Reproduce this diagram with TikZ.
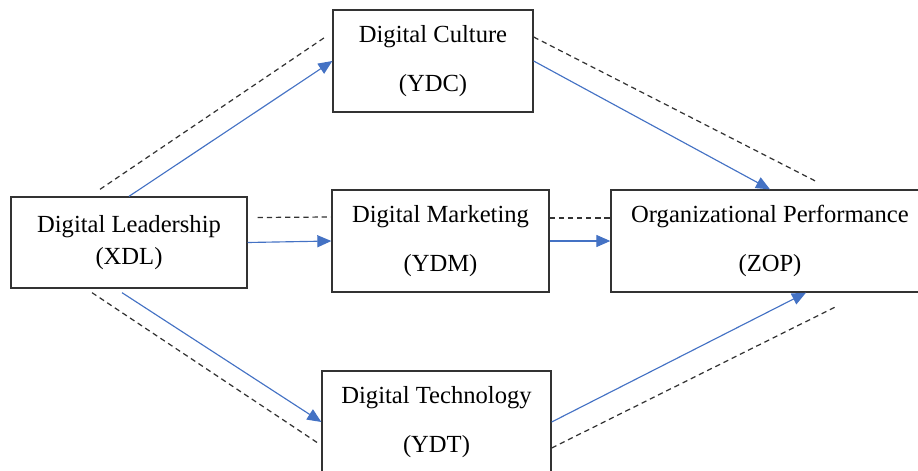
\documentclass[tikz,border=0pt]{standalone}
\usepackage{fontspec}
\setmainfont{Liberation Serif}
\usepackage{xcolor}
\usetikzlibrary{arrows.meta, positioning, calc}

\definecolor{pathblue}{HTML}{4472C4}
\definecolor{boxline}{HTML}{333333}
\definecolor{dashgray}{HTML}{333333}

\begin{document}
\begin{tikzpicture}[
    varbox/.style={rectangle,draw=boxline,line width=0.75pt,inner sep=0pt,minimum height=2.04cm,align=center,font=\fontsize{14}{28}\selectfont},
    path/.style={draw=pathblue,line width=0.65pt,-{Triangle[length=2.8mm,width=2.4mm]}},
    med/.style={draw=dashgray,line width=0.7pt,dash pattern=on 3pt off 2.2pt}
]
    \useasboundingbox (0,0) rectangle (18.36,9.4);
    \clip (0,0) rectangle (18.36,9.4);

    % Variabile X
    \node[varbox,minimum width=4.72cm,minimum height=1.82cm,font=\fontsize{14}{18}\selectfont] (xdl) at (2.58,4.55) {Digital Leadership\\(XDL)};

    % Mediatori
    \node[varbox,minimum width=4.0cm] (ydc) at (8.66,8.18) {Digital Culture\\(YDC)};
    \node[varbox,minimum width=4.34cm] (ydm) at (8.81,4.58) {Digital Marketing\\(YDM)};
    \node[varbox,minimum width=4.58cm] (ydt) at (8.73,0.96) {Digital Technology\\(YDT)};

    % Variabile Z
    \node[varbox,minimum width=6.36cm] (zop) at (15.4,4.58) {Organizational Performance\\(ZOP)};

    % Percorsi diretti
    \draw[path] (xdl.north) -- (ydc.west);
    \draw[path] (xdl.east) -- (ydm.west);
    \draw[path] ([xshift=-0.14cm,yshift=-0.08cm]xdl.south) -- (ydt.west);
    \draw[path] (ydc.east) -- (zop.north);
    \draw[path] (ydm.east) -- (zop.west);
    \draw[path] (ydt.east) -- ([xshift=0.72cm]zop.south);

    % Percorsi di mediazione
    \draw[med] ([xshift=-0.58cm,yshift=0.14cm]xdl.north) -- ([xshift=-0.14cm,yshift=0.48cm]ydc.west);
    \draw[med] ([xshift=0.2cm,yshift=0.5cm]xdl.east) -- ([yshift=0.48cm]ydm.west);
    \draw[med] ([xshift=-0.74cm,yshift=-0.08cm]xdl.south) -- ([xshift=-0.04cm,yshift=-0.44cm]ydt.west);
    \draw[med] ([yshift=0.48cm]ydc.east) -- ([xshift=0.92cm,yshift=0.16cm]zop.north);
    \draw[med] ([yshift=0.46cm]ydm.east) -- ([yshift=0.46cm]zop.west);
    \draw[med] ([yshift=-0.52cm]ydt.east) -- ([xshift=1.36cm,yshift=-0.26cm]zop.south);
\end{tikzpicture}
\end{document}
